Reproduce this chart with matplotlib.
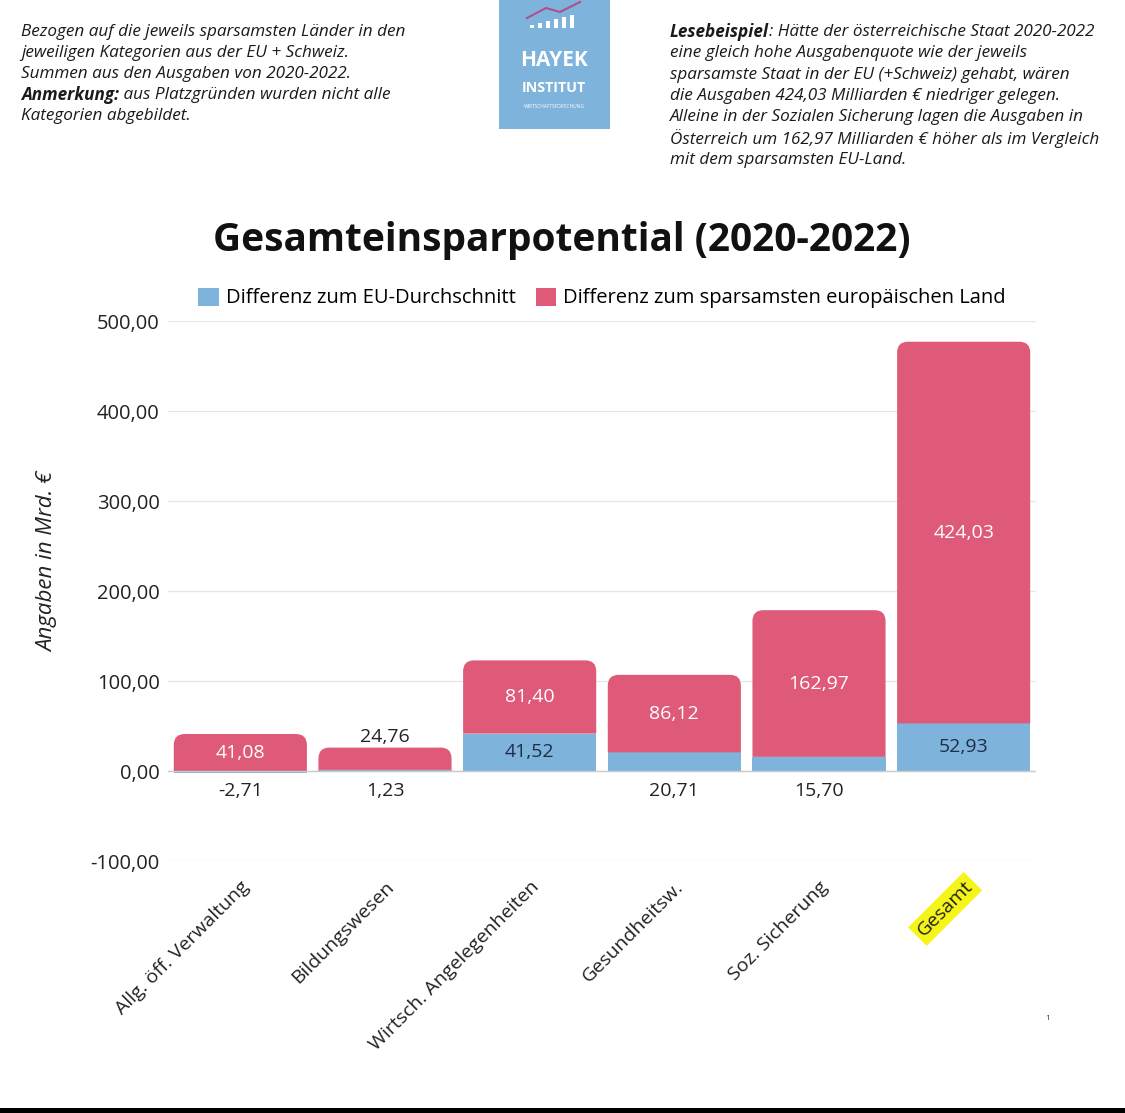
import matplotlib
matplotlib.use("Agg")
import matplotlib.pyplot as plt
from matplotlib.patches import PathPatch, Rectangle
from matplotlib.path import Path
from matplotlib.ticker import FuncFormatter

plt.rcParams['font.family'] = ['Open Sans', 'DejaVu Sans']

categories = ["Allg. öff. Verwaltung", "Bildungswesen", "Wirtsch. Angelegenheiten",
              "Gesundheitsw.", "Soz. Sicherung", "Gesamt"]
eu_avg = [-2.71, 1.23, 41.52, 20.71, 15.70, 52.93]
thriftiest = [41.08, 24.76, 81.40, 86.12, 162.97, 424.03]
series_names = ["Differenz zum EU-Durchschnitt", "Differenz zum sparsamsten europäischen Land"]
yticks = [-100, 0, 100, 200, 300, 400, 500]

BLUE = "#7eb3dc"
RED = "#de5a78"
DARK = "#222222"
W, H = 1125, 1113


def de(v, nd=2):
    return f"{v:.{nd}f}".replace(".", ",")


def top_rounded(x0, y0, w, h, rx, ry):
    # rectangle with only the two top corners rounded
    x1, y1 = x0 + w, y0 + h
    verts = [(x0, y0), (x0, y1 - ry), (x0, y1), (x0 + rx, y1),
             (x1 - rx, y1), (x1, y1), (x1, y1 - ry), (x1, y0), (x0, y0)]
    codes = [Path.MOVETO, Path.LINETO, Path.CURVE3, Path.CURVE3,
             Path.LINETO, Path.CURVE3, Path.CURVE3, Path.LINETO, Path.CLOSEPOLY]
    return Path(verts, codes)


fig = plt.figure(figsize=(W / 100, H / 100), dpi=100)
ax = fig.add_axes([168 / W, 1 - 861 / H, (1036 - 168) / W, (861 - 321) / H])

x = list(range(len(categories)))
bw = 0.92
blue_bars = ax.bar(x, eu_avg, width=bw, color=BLUE, zorder=2, lw=0)
red_bottom = [max(b, 0) for b in eu_avg]
red_bars = ax.bar(x, thriftiest, bottom=red_bottom, width=bw, color=RED, zorder=2, lw=0)

# replace the red rectangles by shapes with rounded top corners
for p in red_bars:
    x0, y0, w, h = p.get_x(), p.get_y(), p.get_width(), p.get_height()
    p.set_height(0)
    ax.add_patch(PathPatch(top_rounded(x0, y0, w, h, 0.075, min(12, h / 2)),
                           facecolor=RED, lw=0, zorder=2))

ax.set_xlim(-0.5, len(categories) - 0.5)
ax.set_ylim(-100, 500)
ax.set_yticks(yticks)
ax.yaxis.set_major_formatter(FuncFormatter(lambda v, _: de(v)))
ax.grid(axis="y", color="#e6e6e6", lw=0.9, zorder=0)
ax.axhline(0, color="#cccccc", lw=1, zorder=3)
for s in ax.spines.values():
    s.set_visible(False)
ax.tick_params(axis="y", length=0, labelsize=14.5, colors=DARK, pad=6)
ax.set_xticks(x)
ax.set_xticklabels(categories, rotation=45, ha="right", va="top",
                   rotation_mode="anchor", fontsize=14, color=DARK)
ax.tick_params(axis="x", length=0, pad=12)
xl = ax.get_xticklabels()[-1]
xl.set_bbox(dict(facecolor="#f5f51a", edgecolor="none", pad=3))
ax.set_ylabel("Angaben in Mrd. €", fontsize=16, style="italic", color=DARK)
ax.yaxis.set_label_coords(-0.126, (861 - 562) / 540)

# value labels
for i in x:
    b, r = eu_avg[i], thriftiest[i]
    if abs(b) >= 30:
        ax.text(i, b / 2, de(b), ha="center", va="center", fontsize=14, color="#1f2d4a", zorder=4)
    else:
        ax.text(i, -22, de(b), ha="center", va="center", fontsize=14, color=DARK, zorder=4)
    base = red_bottom[i]
    if r >= 30:
        ax.text(i, base + r / 2, de(r), ha="center", va="center", fontsize=14,
                color="white", zorder=4)
    else:
        ax.text(i, base + r + 12, de(r), ha="center", va="center", fontsize=14,
                color=DARK, zorder=4)

fig.legend(handles=[blue_bars, red_bars], labels=series_names, loc="center",
           bbox_to_anchor=(602 / W, 1 - 298 / H), ncol=2, frameon=False,
           fontsize=14.5, handlelength=1.0, handleheight=1.0, handletextpad=0.35,
           columnspacing=1.0)

fig.text(562 / W, 1 - 240 / H, "Gesamteinsparpotential (2020-2022)", ha="center",
         va="center", fontsize=28, fontweight="bold", color="#111111")

# header texts
fig.canvas.draw()
renderer = fig.canvas.get_renderer()


def mixed_line(xp, yp, parts, size=12.3):
    cur = xp
    for txt, weight in parts:
        t = fig.text(cur / W, 1 - yp / H, txt, ha="left", va="center", fontsize=size,
                     style="italic", fontweight=weight, color="#1a1a1a")
        cur += t.get_window_extent(renderer).width


left_lines = [
    [("Bezogen auf die jeweils sparsamsten Länder in den", "normal")],
    [("jeweiligen Kategorien aus der EU + Schweiz.", "normal")],
    [("Summen aus den Ausgaben von 2020-2022.", "normal")],
    [("Anmerkung:", "bold"), (" aus Platzgründen wurden nicht alle", "normal")],
    [("Kategorien abgebildet.", "normal")],
]
for k, parts in enumerate(left_lines):
    mixed_line(21, 32 + 21 * k, parts)

right_lines = [
    [("Lesebeispiel", "bold"), (": Hätte der österreichische Staat 2020-2022", "normal")],
    [("eine gleich hohe Ausgabenquote wie der jeweils", "normal")],
    [("sparsamste Staat in der EU (+Schweiz) gehabt, wären", "normal")],
    [("die Ausgaben 424,03 Milliarden € niedriger gelegen.", "normal")],
    [("Alleine in der Sozialen Sicherung lagen die Ausgaben in", "normal")],
    [("Österreich um 162,97 Milliarden € höher als im Vergleich", "normal")],
    [("mit dem sparsamsten EU-Land.", "normal")],
]
for k, parts in enumerate(right_lines):
    mixed_line(670, 32 + 21.3 * k, parts)

# logo
fig.add_artist(Rectangle((499 / W, 1 - 129 / H), 111 / W, 129 / H,
                         transform=fig.transFigure, color="#7eb3dc", lw=0))
logo_bars = [3, 5, 7, 9, 11, 13]
for k, hb in enumerate(logo_bars):
    fig.add_artist(Rectangle(((530 + 8 * k) / W, 1 - 28 / H), 4 / W, hb / H,
                             transform=fig.transFigure, color="white", lw=0))
fig.add_artist(plt.Line2D([527 / W, 546 / W, 560 / W, 574 / W, 580 / W],
                          [1 - 18 / H, 1 - 8 / H, 1 - 12 / H, 1 - 5 / H, 1 - 2 / H],
                          transform=fig.transFigure, color="#b0508a", lw=1.5))
fig.text(554 / W, 1 - 60 / H, "HAYEK", ha="center", va="center", fontsize=15,
         fontweight="bold", color="white")
fig.text(554 / W, 1 - 88 / H, "INSTITUT", ha="center", va="center", fontsize=10.3,
         fontweight="bold", color="white")
fig.text(554 / W, 1 - 106 / H, "WIRTSCHAFTSFORSCHUNG", ha="center", va="center",
         fontsize=3.5, color="white")

fig.text(1048 / W, 1 - 1018 / H, "1", ha="center", va="center", fontsize=6, color="#333333")
fig.add_artist(Rectangle((0, 0), 1, 5 / H, transform=fig.transFigure, color="black", lw=0))

fig.savefig("out.png", dpi=100, facecolor="white")
